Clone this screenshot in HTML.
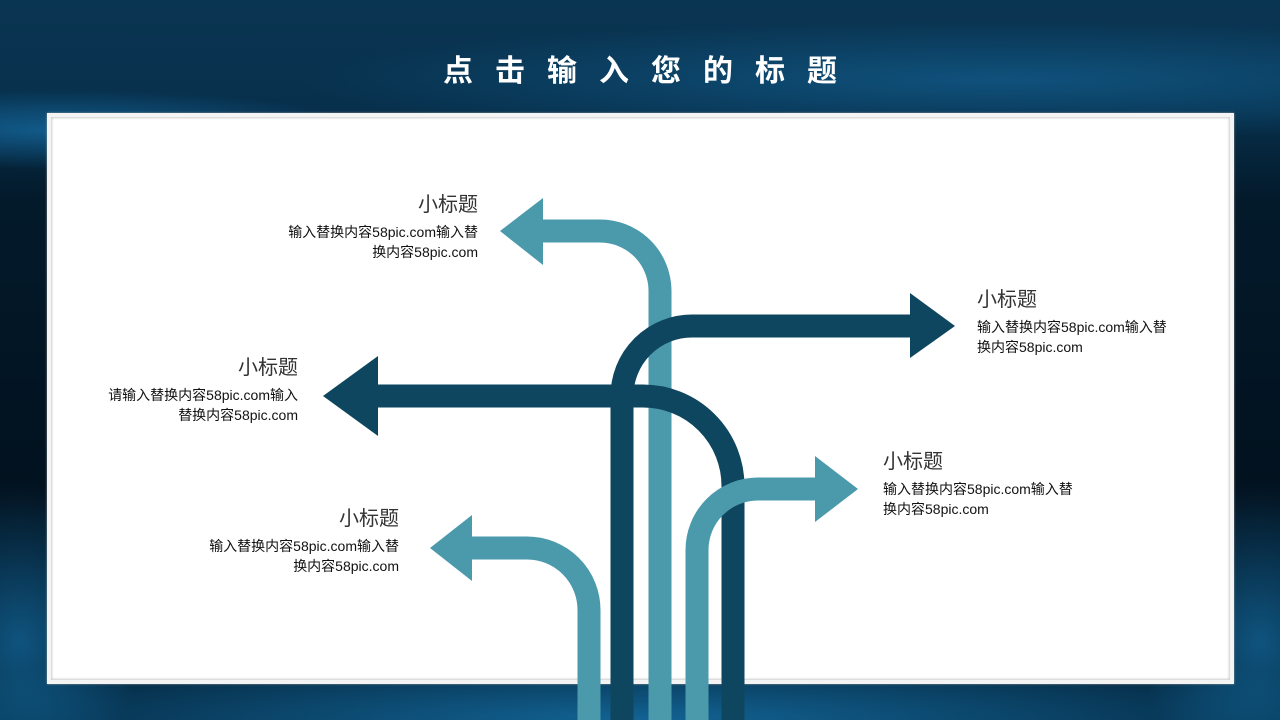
<!DOCTYPE html>
<html><head><meta charset="utf-8"><style>
*{margin:0;padding:0;box-sizing:border-box}
body{width:1280px;height:720px;overflow:hidden;position:relative;font-family:"Liberation Sans","Noto Sans CJK SC",sans-serif;
background:
radial-gradient(ellipse 700px 60px at 1000px 80px,rgba(30,140,210,.35),transparent),
radial-gradient(ellipse 300px 40px at 60px 130px,rgba(30,140,210,.5),transparent),
radial-gradient(ellipse 800px 80px at 640px 720px,rgba(30,150,220,.55),transparent),
radial-gradient(ellipse 120px 160px at 1260px 640px,rgba(30,150,220,.45),transparent),
radial-gradient(ellipse 120px 160px at 20px 640px,rgba(30,150,220,.45),transparent),
linear-gradient(#0a3552 0,#07304c 110px,#031a2b 200px,#02111e 500px,#03243b 720px);}
.title{position:absolute;top:54px;left:0;width:1280px;text-align:center;color:#fff;font-weight:bold;font-size:30px;letter-spacing:22px;padding-left:22px;line-height:36px}
.panel{position:absolute;left:47px;top:113px;width:1187px;height:571px;background:#fff;border:4px solid #f4f4f4;box-shadow:inset 0 0 2px 1px #ccc,0 0 2px #999}
.t{position:absolute;color:#111}
.t h{display:block;font-size:20px;line-height:26px;color:#333;font-weight:normal}
.t p{font-size:14px;line-height:20px;margin-top:4px}
.r{text-align:right}
svg{position:absolute;left:0;top:0}
</style></head><body>
<div class="title">点击输入您的标题</div>
<div class="panel"></div>
<svg width="1280" height="720" fill="none" stroke-width="23">
<path d="M660 720V290A60 60 0 0 0 600 231H540" stroke="#4a9aac"/>
<polygon points="543,198 500,231 543,265" fill="#4a9aac"/>
<path d="M733 720V486A90 90 0 0 0 643 396H376" stroke="#0e4660"/>
<polygon points="378,356 323,396 378,436" fill="#0e4660"/>
<path d="M622 720V396A70 70 0 0 1 692 326H912" stroke="#0e4660"/>
<polygon points="910,293 955,326 910,358" fill="#0e4660"/>
<path d="M697 720V550A61 61 0 0 1 758 489H817" stroke="#4a9aac"/>
<polygon points="815,456 858,489 815,522" fill="#4a9aac"/>
<path d="M589 720V610A62 62 0 0 0 527 548H470" stroke="#4a9aac"/>
<polygon points="472,515 430,548 472,581" fill="#4a9aac"/>
</svg>
<div class="t r" style="right:802px;top:192px"><h>小标题</h><p>输入替换内容58pic.com输入替<br>换内容58pic.com</p></div>
<div class="t r" style="right:982px;top:355px"><h>小标题</h><p>请输入替换内容58pic.com输入<br>替换内容58pic.com</p></div>
<div class="t r" style="right:881px;top:506px"><h>小标题</h><p>输入替换内容58pic.com输入替<br>换内容58pic.com</p></div>
<div class="t" style="left:977px;top:287px"><h>小标题</h><p>输入替换内容58pic.com输入替<br>换内容58pic.com</p></div>
<div class="t" style="left:883px;top:449px"><h>小标题</h><p>输入替换内容58pic.com输入替<br>换内容58pic.com</p></div>
</body></html>
